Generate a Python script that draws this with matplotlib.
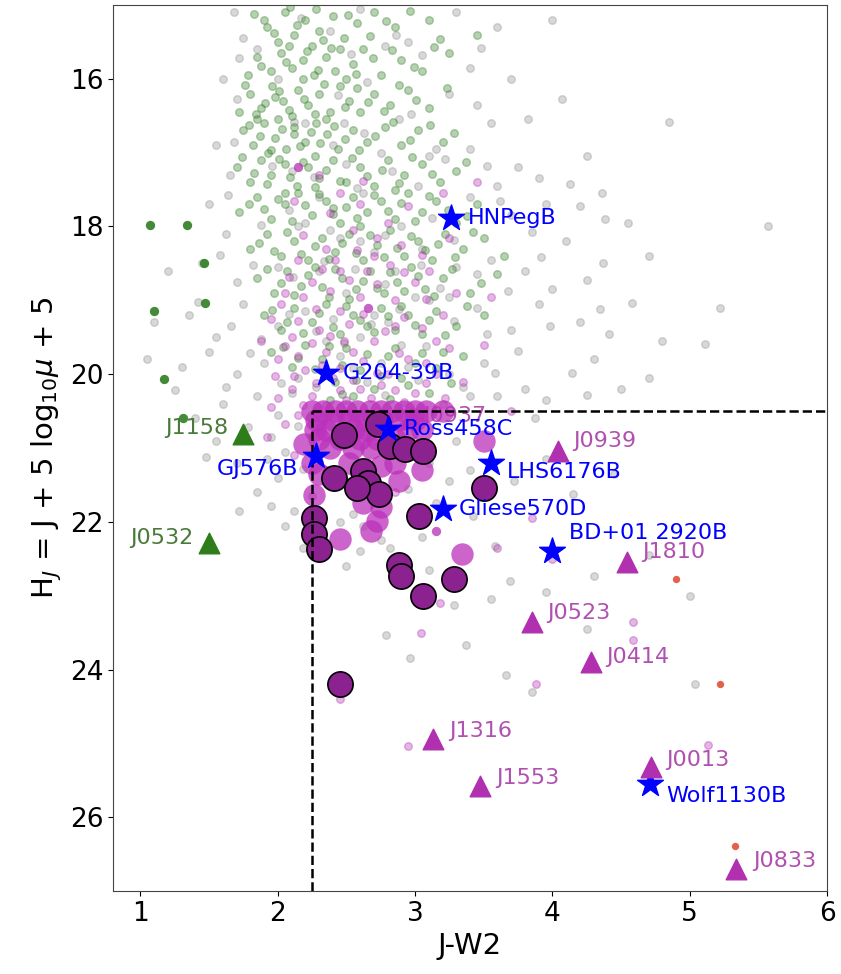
import numpy as np
import matplotlib
matplotlib.use("Agg")
import matplotlib.pyplot as plt

# background field objects (approximate)
green_pts = [(1.92,15.3),(2.05,15.1),(2.12,15.4),(2.2,15.2),(2.3,15.35),(2.4,15.15),(2.48,15.45),(2.58,15.25),(2.7,15.1),(2.85,15.3),(3.1,15.2),(3.45,15.4),(2.0,15.5),(2.25,15.55),
    (1.85,15.7),(1.95,15.9),(2.02,15.65),(2.1,15.85),(2.18,15.75),(2.26,15.95),(2.35,15.7),(2.42,15.9),(2.55,15.8),(2.62,15.6),(2.75,15.95),(2.9,15.75),(3.05,15.9),(3.25,15.65),(1.78,15.95),(2.5,16.0),
    (1.8,16.2),(1.88,16.4),(1.96,16.1),(2.04,16.3),(2.1,16.5),(2.15,16.15),(2.22,16.35),(2.3,16.2),(2.38,16.45),(2.45,16.1),(2.52,16.3),(2.6,16.45),(2.7,16.2),(2.82,16.35),(2.95,16.15),(3.1,16.4),(1.72,16.45),(2.0,16.55),
    (1.75,16.7),(1.82,16.9),(1.9,16.6),(1.98,16.8),(2.06,16.95),(2.12,16.65),(2.2,16.85),(2.28,16.6),(2.36,16.75),(2.44,16.95),(2.55,16.7),(2.65,16.85),(2.78,16.65),(2.9,16.9),(3.02,16.7),(3.2,16.85),(1.85,16.55),
    (1.7,17.2),(1.8,17.4),(1.88,17.1),(1.95,17.3),(2.05,17.15),(2.14,17.45),(2.22,17.2),(2.3,17.35),(2.4,17.1),(2.5,17.4),(2.6,17.2),(2.7,17.45),(2.8,17.1),(2.92,17.3),(3.05,17.15),(3.18,17.4),(3.3,17.25),(2.85,17.5),
    (1.72,17.8),(1.85,17.6),(1.95,17.9),(2.05,17.7),(2.15,17.55),(2.25,17.85),(2.35,17.65),(2.45,17.95),(2.55,17.6),(2.65,17.8),(2.75,17.65),(2.85,17.9),(2.95,17.55),(3.05,17.8),(3.15,17.65),(3.3,17.95),(3.45,17.7),(2.6,18.0),
    (1.8,18.3),(1.92,18.1),(2.02,18.4),(2.12,18.2),(2.22,18.45),(2.32,18.15),(2.42,18.35),(2.52,18.1),(2.62,18.45),(2.72,18.25),(2.82,18.05),(2.92,18.4),(3.02,18.2),(3.12,18.45),(3.22,18.1),(3.35,18.3),(3.5,18.15),(3.65,18.4),
    (1.85,18.7),(1.97,18.9),(2.07,18.6),(2.17,18.8),(2.27,18.55),(2.37,18.95),(2.47,18.7),(2.57,18.85),(2.67,18.6),(2.77,18.9),(2.87,18.75),(2.97,18.55),(3.07,18.85),(3.2,18.7),(3.4,18.9),(3.6,18.65),
    (1.9,19.2),(2.02,19.4),(2.12,19.1),(2.25,19.3),(2.35,19.05),(2.45,19.45),(2.55,19.2),(2.65,19.35),(2.75,19.1),(2.85,19.4),(2.95,19.2),(3.05,19.45),(3.15,19.15),(3.3,19.35),(3.5,19.2),
    (1.95,19.7),(2.1,19.9),(2.2,19.6),(2.32,19.8),(2.42,20.1),(2.5,19.65),(2.6,19.95),(2.7,20.2),(2.8,19.75),(2.9,20.05),(3.0,19.85),(3.1,20.25),(3.2,19.7),(2.55,20.3),(2.38,20.35),
    (1.9,15.2),(2.08,15.55),(2.28,15.05),(2.45,15.6),(1.98,16.25),(2.18,16.0),(2.35,16.55),(1.93,17.0),(2.12,16.75),(2.27,17.05),(2.05,17.55),(2.4,17.75),
    (1.83,15.12),(1.97,15.38),(2.14,15.27),(2.33,15.48),(2.51,15.13),(2.67,15.42),(2.79,15.22),(2.96,15.08),(3.18,15.46),(2.09,15.03),
    (1.88,15.83),(2.06,15.77),(2.21,15.62),(2.29,15.88),(2.39,15.58),(2.57,15.93),(2.69,15.72),(2.83,15.61),(2.99,15.84),(3.14,15.57),
    (1.76,16.08),(1.91,16.33),(2.01,16.17),(2.08,16.42),(2.19,16.27),(2.27,16.48),(2.34,16.07),(2.49,16.38),(2.58,16.13),(2.66,16.31),(2.77,16.43),(2.88,16.08),(3.01,16.29),(3.23,16.12),(1.84,16.47),
    (1.79,16.63),(1.87,16.78),(1.95,16.97),(2.03,16.68),(2.16,16.91),(2.24,16.72),(2.31,16.87),(2.41,16.64),(2.49,16.82),(2.59,16.97),(2.71,16.77),(2.84,16.58),(2.96,16.83),(3.11,16.62),(3.28,16.74),
    (1.74,17.06),(1.83,17.27),(1.92,17.42),(2.01,17.08),(2.09,17.33),(2.18,17.13),(2.27,17.47),(2.35,17.24),(2.45,17.38),(2.54,17.07),(2.65,17.31),(2.76,17.23),(2.88,17.41),(2.98,17.06),(3.12,17.29),(3.37,17.12),
    (1.79,17.69),(1.9,17.77),(2.0,17.63),(2.1,17.92),(2.2,17.71),(2.3,17.56),(2.4,17.83),(2.5,17.74),(2.58,17.88),(2.7,17.58),(2.8,17.79),(2.9,17.68),(3.0,17.93),(3.1,17.59),(3.24,17.78),(3.38,17.86),
    (1.86,18.22),(1.97,18.33),(2.07,18.08),(2.17,18.37),(2.27,18.26),(2.37,18.44),(2.47,18.23),(2.57,18.36),(2.67,18.12),(2.77,18.41),(2.87,18.29),(2.97,18.13),(3.07,18.32),(3.17,18.24),(3.29,18.42),(3.42,18.07),
    (1.92,18.58),(2.02,18.77),(2.12,18.93),(2.22,18.66),(2.32,18.82),(2.42,18.57),(2.52,18.98),(2.62,18.74),(2.72,18.83),(2.82,18.62),(2.92,18.88),(3.02,18.67),(3.14,18.94),(3.27,18.58),(3.48,18.77),
    (1.96,19.13),(2.07,19.29),(2.18,19.44),(2.3,19.17),(2.4,19.36),(2.5,19.08),(2.6,19.27),(2.7,19.43),(2.8,19.21),(2.9,19.08),(3.0,19.33),(3.1,19.27),(3.22,19.47),(3.38,19.08),
    (2.04,19.63),(2.15,19.78),(2.27,19.93),(2.37,19.62),(2.47,19.87),(2.57,20.08),(2.65,19.73),(2.75,20.02),(2.85,19.64),(2.95,20.15),(3.05,19.72),(3.15,19.92),(3.26,20.12),(2.47,20.27),(2.82,20.33),(3.35,19.75)]

gray_pts = [(1.68,15.1),(2.6,15.05),(2.95,15.5),(3.3,15.1),(3.6,15.3),(4.0,15.2),(1.75,15.45),(2.38,15.35),(2.78,15.55),
    (3.4,15.85),(3.7,16.0),(4.07,16.27),(1.6,16.0),(2.65,16.05),(2.88,16.55),(3.25,16.2),(3.55,16.6),(4.85,16.58),
    (1.55,16.9),(1.65,17.3),(2.48,16.6),(2.75,17.0),(3.1,17.05),(3.4,16.95),(3.75,17.2),(4.13,17.43),(4.36,17.55),(3.6,17.45),
    (1.5,17.7),(1.62,18.1),(2.2,17.95),(2.9,18.0),(3.4,17.6),(3.7,17.85),(3.95,17.7),(4.38,17.9),(5.57,18.0),(4.1,18.2),
    (1.2,18.6),(1.45,18.5),(1.7,18.75),(2.3,18.6),(2.7,18.35),(3.3,18.55),(3.55,18.45),(3.8,18.6),(4.0,18.85),(4.37,18.5),(3.25,18.95),
    (1.1,19.3),(1.35,19.2),(1.55,19.5),(1.75,19.05),(2.0,19.35),(2.4,19.25),(2.8,19.3),(3.1,19.0),(3.45,19.1),(3.7,19.4),(3.9,19.05),(4.2,19.3),(4.58,19.03),(5.22,19.1),(4.41,19.45),
    (1.05,19.8),(1.3,19.9),(1.5,19.7),(1.7,20.0),(1.9,19.85),(2.15,20.05),(2.45,19.75),(2.65,20.1),(2.95,19.9),(3.25,20.0),(3.5,19.85),(3.8,20.2),(4.14,19.99),(4.5,20.2),(5.11,19.59),(4.3,19.8),(3.6,20.3),
    (1.4,20.6),(1.6,20.4),(1.85,20.3),(2.0,20.55),(2.1,20.25),(1.95,20.85),(2.15,20.7),(1.55,20.9),(1.7,21.2),(2.05,21.05),(2.0,21.4),(1.85,21.6),(2.12,21.85),
    (3.2,20.4),(3.4,20.3),(3.87,20.59),(3.3,20.9),(3.4,21.3),(3.1,21.2),(2.55,21.9),(2.95,21.55),(3.15,21.75),(2.45,22.0),(2.6,22.4),(2.75,22.25),(3.05,22.2),(3.58,22.33),(3.69,22.8),(4.3,22.74),(5.0,23.0),
    (2.79,23.53),(2.96,23.85),(3.37,23.67),(3.66,24.07),(3.85,24.3),(3.28,23.12),(5.04,24.19),(3.1,22.65),(2.5,22.6),
    (1.85,15.6),(2.0,16.0),(2.2,16.6),(2.4,16.9),(2.1,17.25),(2.5,17.15),(2.3,17.6),(2.6,18.2),(2.0,18.55),(2.5,18.9),(2.2,19.15),(2.6,19.5),(2.9,19.6),(2.35,19.55),(2.75,19.85),(3.05,18.3),(2.85,18.6),(3.0,18.95),(2.45,18.15),(2.15,18.0),(2.7,19.2),
    (1.72,15.72),(2.17,15.18),(2.53,15.67),(2.86,15.41),(3.05,15.68),(3.48,15.58),(1.7,16.28),(2.12,16.58),(2.44,16.22),(2.63,16.73),(2.97,16.47),(3.15,16.95),(3.45,16.35),(3.82,16.55),
    (1.68,16.85),(1.96,17.18),(2.26,17.33),(2.58,17.48),(2.83,17.25),(3.02,17.45),(3.22,17.08),(3.52,17.18),(3.9,17.35),(4.25,17.05),
    (1.64,17.58),(1.88,17.98),(2.08,17.78),(2.38,18.05),(2.62,17.55),(2.78,18.12),(3.12,17.88),(3.28,18.18),(3.62,17.65),(3.85,18.08),(4.2,17.72),(4.55,17.95),
    (1.58,18.38),(1.82,18.52),(2.11,18.68),(2.34,18.47),(2.56,18.58),(2.78,18.78),(3.04,18.52),(3.18,18.83),(3.45,18.65),(3.68,18.88),(3.92,18.42),(4.25,18.72),(4.7,18.4),
    (1.42,19.02),(1.66,19.35),(1.88,19.52),(2.08,19.18),(2.28,19.42),(2.48,19.58),(2.68,19.32),(2.88,19.12),(3.08,19.62),(3.28,19.28),(3.52,19.45),(3.75,19.68),(3.98,19.35),(4.35,19.12),(4.8,19.55),
    (1.25,20.22),(1.62,20.18),(1.8,19.72),(2.02,20.12),(2.28,20.18),(2.55,19.92),(2.78,20.28),(3.02,20.08),(3.35,20.18),(3.58,19.98),(3.95,20.35),(4.25,20.28),(4.7,20.05),
    (1.48,21.12),(1.78,20.72),(1.92,21.15),(2.18,21.28),(1.72,21.85),(2.05,22.05),(1.95,21.78),(2.18,22.35),(2.62,22.05),(2.82,22.35),(2.98,21.85),(3.25,21.45),(3.42,21.92),(3.72,21.45),(3.95,21.15),(4.15,21.62),(4.45,21.35),(3.55,23.05),(3.95,22.95),(4.25,23.45),(4.7,22.45)]

purple_pts = [(2.3,17.3),(2.45,17.55),(2.6,17.7),(2.55,18.05),(2.35,18.3),(2.15,18.45),(2.7,18.4),(2.9,18.25),(3.1,18.6),(3.45,17.4),(3.2,17.55),
    (2.05,18.9),(2.25,18.75),(2.45,18.6),(2.6,18.95),(2.85,19.0),(3.0,18.75),(3.2,19.2),(1.95,19.25),(2.1,19.5),(2.3,19.4),(2.45,19.15),
    (2.55,19.7),(2.7,19.55),(2.85,19.35),(2.95,19.8),(3.15,19.55),(2.0,19.8),(2.2,19.95),(2.4,20.05),(2.6,20.2),(2.8,20.0),(3.0,20.25),(3.15,20.0),
    (2.25,20.3),(2.5,20.35),(2.1,20.2),(1.95,20.45),(2.15,20.55),(2.35,19.7),(2.65,18.6),(2.8,17.95),(3.3,18.9),(3.55,18.95),(3.5,19.6),
    (2.25,21.65),(2.85,21.6),(4.0,22.5),(3.6,22.35),(4.59,23.35),(4.59,23.6),(3.88,24.19),(3.04,23.51),(3.18,23.1),(2.95,25.04),(5.13,25.02),
    (3.85,21.95),(3.7,20.5),(2.35,21.3),(2.45,24.4),
    (2.12,17.65),(2.38,17.82),(2.62,17.38),(2.72,18.15),(2.95,17.72),(2.18,18.12),(2.42,18.45),(2.58,18.32),(2.82,18.52),(3.05,18.38),(3.25,18.15),
    (2.08,18.68),(2.18,18.95),(2.32,18.58),(2.38,18.88),(2.52,18.72),(2.72,18.78),(2.92,18.62),(3.08,18.98),(2.02,19.05),(2.15,19.28),(2.28,19.12),
    (2.38,19.48),(2.52,19.32),(2.62,19.18),(2.78,19.42),(2.92,19.22),(3.05,19.38),(3.25,19.65),
    (2.05,19.62),(2.15,19.75),(2.25,19.58),(2.32,19.88),(2.45,19.92),(2.48,19.55),(2.62,19.82),(2.72,19.98),(2.88,19.72),(3.08,19.85),(2.12,20.02),
    (2.28,20.12),(2.35,20.42),(2.55,20.08),(2.68,20.32),(2.75,20.15),(2.92,20.38),(3.08,20.12),(2.0,20.32),(2.18,20.42),(1.98,20.02),(2.45,20.22),
    (2.85,20.22),(3.22,20.32),(3.35,20.1),(1.88,19.55),(1.92,20.85),(2.05,20.68),(2.12,21.1)]
bright_purple_pts = [(2.15,17.2),(2.66,19.1),(3.15,22.13)]
dark_green_pts = [(1.07,17.98),(1.34,17.98),(1.46,18.49),(1.10,19.15),(1.47,19.03),(1.17,20.06),(1.31,20.59)]
red_pts = [(4.9,22.78),(5.22,24.19),(5.33,26.39)]

# sample in the box (light) and the highlighted ones (dark, black edge)
light_x = [2.25,2.33,2.42,2.5,2.58,2.67,2.75,2.83,2.92,3.0,3.08, 2.28,2.4,2.52,2.64,2.76,2.88,3.0, 2.27,2.35,2.55,2.65,2.95,3.05,
           2.3,2.45,2.6,2.72,2.85, 2.19,2.38,2.55,2.68, 2.25,2.3,2.26,2.88,2.72,2.68,2.45,3.34,3.5,2.75,2.52,2.85,2.62,2.75,3.05,3.2]
light_y = [20.5,20.5,20.5,20.5,20.5,20.5,20.5,20.5,20.5,20.5,20.5, 20.62,20.62,20.62,20.62,20.62,20.62,20.62, 20.75,20.75,20.75,20.75,20.75,20.75,
           20.88,20.88,20.88,20.88,20.88, 20.95,21.0,21.0,21.0, 21.2,21.35,21.63,21.45,21.99,22.13,22.23,22.43,20.9,21.25,21.2,21.2,21.75,21.8,21.3,20.5]
dark_x = [2.48,2.73,2.82,2.93,3.06,2.41,2.62,2.66,2.74,2.58,2.26,2.26,2.30,3.03,3.50,2.88,2.90,3.28,3.06,2.45]
dark_y = [20.82,20.67,20.97,21.01,21.04,21.41,21.31,21.48,21.62,21.54,21.95,22.17,22.37,21.92,21.54,22.58,22.74,22.77,23.01,24.19]

# named objects
star_names = ["HNPegB","G204-39B","Ross458C","GJ576B","LHS6176B","Gliese570D","BD+01 2920B","Wolf1130B"]
star_x = [3.26,2.35,2.80,2.28,3.55,3.20,4.00,4.71]
star_y = [17.89,19.98,20.74,21.11,21.20,21.82,22.39,25.55]
green_tri_names = ["J1158","J0532"]
green_tri_x = [1.75,1.50]
green_tri_y = [20.81,22.29]
mag_tri_names = ["J0939","J1810","J0523","J0414","J1316","J1553","J0013","J0833"]
mag_tri_x = [4.04,4.54,3.85,4.28,3.13,3.47,4.72,5.34]
mag_tri_y = [21.04,22.54,23.35,23.90,24.94,25.58,25.32,26.70]

fig = plt.figure(figsize=(8.41,9.74), dpi=100)
ax = fig.add_axes([0.1344,0.0852,0.849,0.9097])

g = np.array(green_pts); gr = np.array(gray_pts); p = np.array(purple_pts)
ax.scatter(gr[:,0], gr[:,1], s=30, color="gray", alpha=0.3, zorder=1)
ax.scatter(g[:,0], g[:,1], s=30, color="#2f7d22", alpha=0.35, zorder=1)
ax.scatter(p[:,0], p[:,1], s=30, color="#b030b0", alpha=0.35, zorder=1)
bp = np.array(bright_purple_pts)
ax.scatter(bp[:,0], bp[:,1], s=45, color="#b020b0", alpha=0.7, lw=0, zorder=1)
dg = np.array(dark_green_pts)
ax.scatter(dg[:,0], dg[:,1], s=45, color="#2f7d22", alpha=0.9, lw=0, zorder=2)
rp = np.array(red_pts)
ax.scatter(rp[:,0], rp[:,1], s=28, color="#e0503a", alpha=0.9, lw=0, zorder=2)

# hidden triangle/label behind the cluster
ax.scatter([2.97], [20.6], marker="^", s=220, color="#b030b0", zorder=2)
ax.annotate("J0937", (2.97, 20.6), xytext=(9, 2), textcoords="offset points",
            color="#b050b0", fontsize=16, va="center", zorder=2)

ax.scatter(light_x, light_y, s=260, color="#bb30bb", alpha=0.75, lw=0, zorder=3)
ax.scatter(dark_x, dark_y, s=330, color="#8b2290", edgecolors="black", lw=1.2, zorder=4)

ax.plot([2.25,2.25], [27,20.5], "k--", lw=1.8, zorder=5)
ax.plot([2.25,6], [20.5,20.5], "k--", lw=1.8, zorder=5)

ax.scatter(star_x, star_y, marker="*", s=380, color="blue", zorder=6)
ax.scatter(green_tri_x, green_tri_y, marker="^", s=220, color="#2f7d1a", zorder=6)
ax.scatter(mag_tri_x, mag_tri_y, marker="^", s=220, color="#b030b0", zorder=6)

star_off = [(12,0),(12,0),(12,0),(-13,-9),(12,-7),(12,0),(12,13),(12,-9)]
for n, x, y, off in zip(star_names, star_x, star_y, star_off):
    ha = "right" if off[0] < 0 else "left"
    ax.annotate(n, (x, y), xytext=off, textcoords="offset points", color="blue",
                fontsize=16, ha=ha, va="center", zorder=7)
for n, x, y in zip(green_tri_names, green_tri_x, green_tri_y):
    ax.annotate(n, (x, y), xytext=(-11, 4), textcoords="offset points", color="#4a7a3a",
                fontsize=16, ha="right", va="center", zorder=7)
mag_off = [(11,7),(11,7),(11,6),(11,4),(12,6),(12,6),(11,5),(12,6)]
for n, x, y, off in zip(mag_tri_names, mag_tri_x, mag_tri_y, mag_off):
    ax.annotate(n, (x, y), xytext=off, textcoords="offset points", color="#b050b0",
                fontsize=16, ha="left", va="center", zorder=7)

ax.set_xlim(0.8, 6.0)
ax.set_ylim(27, 15)
ax.set_xticks([1,2,3,4,5,6])
ax.set_yticks([16,18,20,22,24,26])
ax.tick_params(labelsize=19)
ax.set_xlabel("J-W2", fontsize=21)
ax.set_ylabel(r"H$_J$ = J + 5 log$_{10}\mu$ + 5", fontsize=21)
for s in ax.spines.values():
    s.set_color("#444444")

fig.savefig("out.png", dpi=100)
